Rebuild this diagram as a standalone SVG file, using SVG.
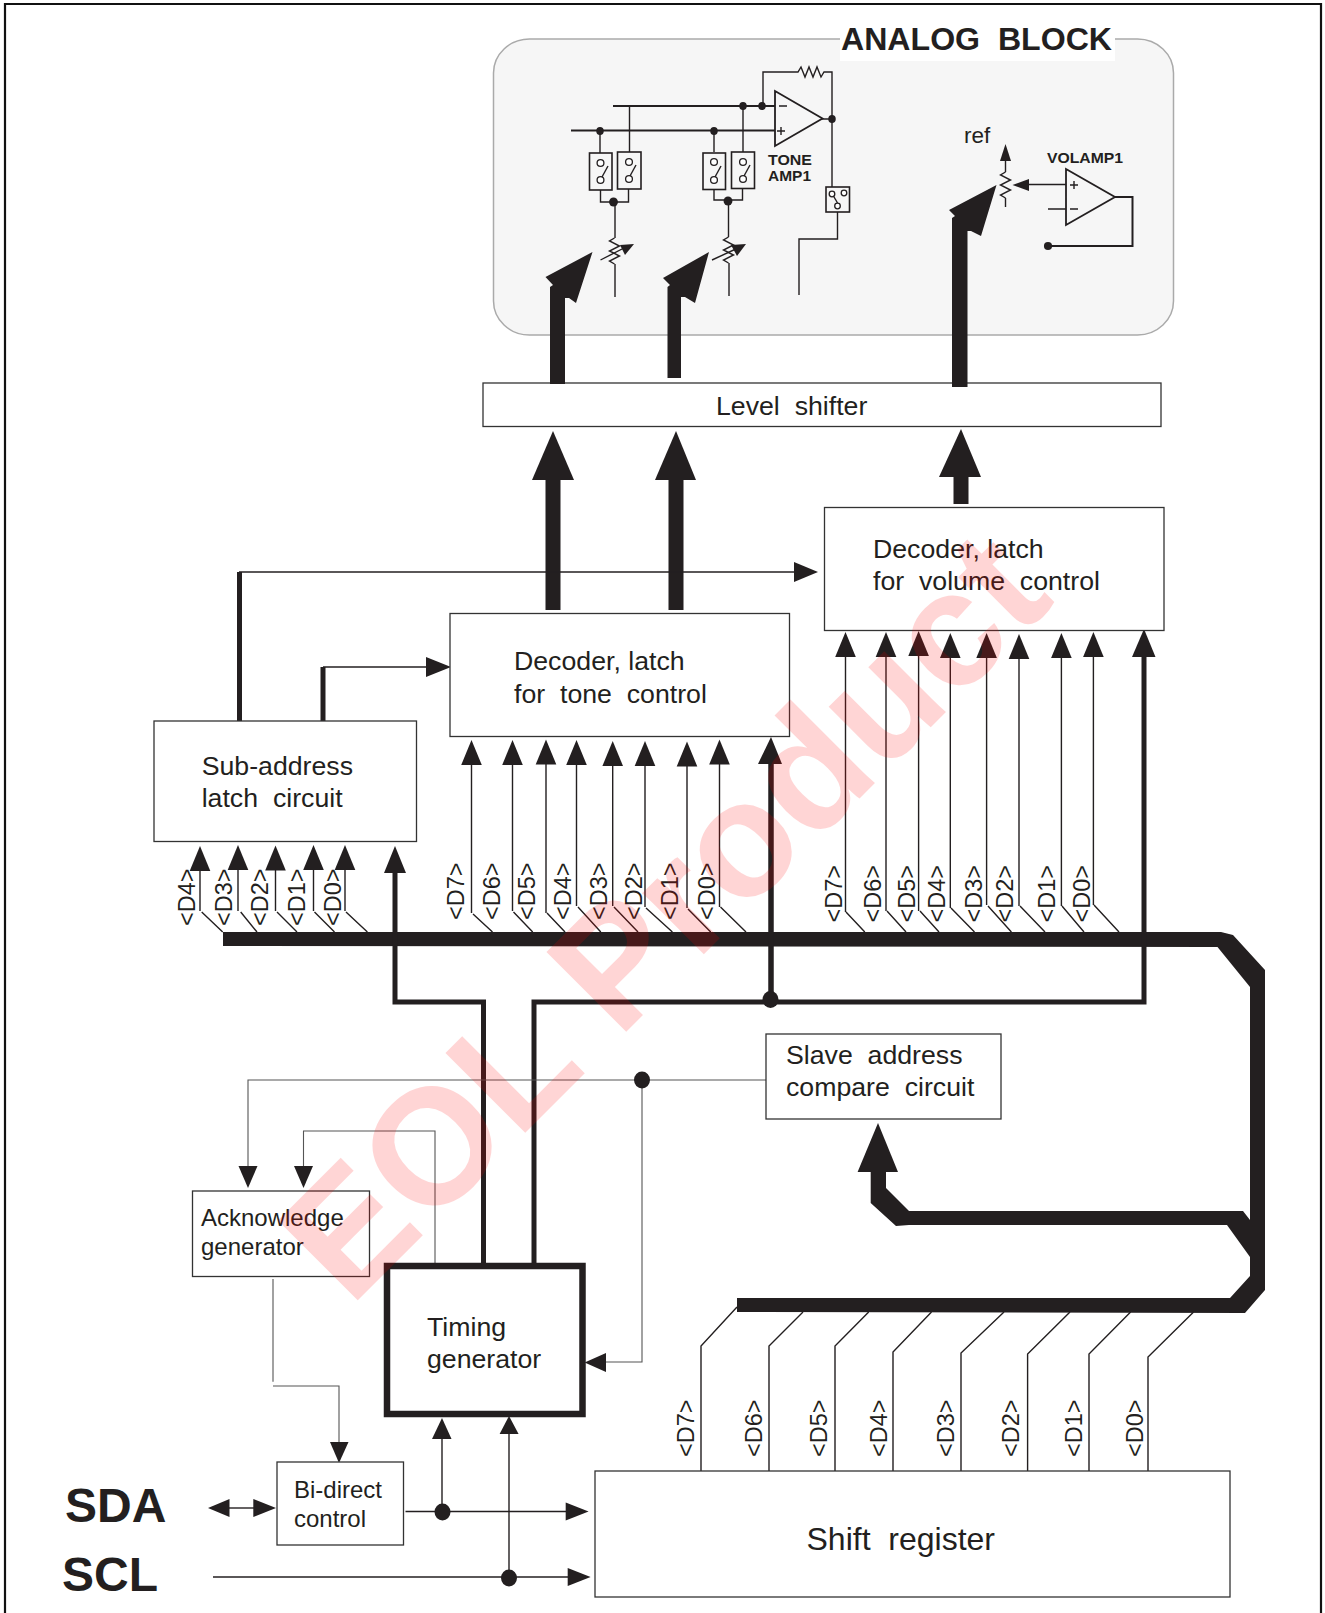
<svg xmlns="http://www.w3.org/2000/svg" xmlns:xlink="http://www.w3.org/1999/xlink" width="1325" height="1613" viewBox="0 0 1325 1613">
<style>
text{font-family:"Liberation Sans",Arial,sans-serif;fill:#231f20;white-space:pre}
.box{fill:#fff;stroke:#333;stroke-width:1.3}
.t{font-size:26.7px}.t24{font-size:24px}
.d{font-size:23.5px}
.b{font-weight:bold}
.w1{fill:none;stroke:#231f20;stroke-width:1.4}
.w0{fill:none;stroke:#555;stroke-width:1.1}
.w2{fill:none;stroke:#231f20;stroke-width:2}
.w5{fill:none;stroke:#231f20;stroke-width:5}
.w6{fill:none;stroke:#231f20;stroke-width:5.5}
.k{fill:#231f20}
.sw{fill:none;stroke:#231f20;stroke-width:1.6}
.c{fill:#fff;stroke:#231f20;stroke-width:1.3}
</style>
<defs>
<polygon id="up" class="k" points="0,0 10.3,25 -10.3,25"/>
<polygon id="down" class="k" points="0,0 9.5,-22 -9.5,-22"/>
<circle id="sd" class="k" r="3.4"/>
<path id="res" class="w1" d="M0,0 l-5,3 10,5 -10,5 10,5 -10,5 5,3"/>
</defs>

<path d="M5,1613V4H1321V1613" fill="none" stroke="#111" stroke-width="2.2"/>

<g id="analog-block">
<rect x="493.500" y="39" width="680" height="296" rx="36" ry="34" fill="#f6f6f6" stroke="#aaa" stroke-width="1.5"/>
<rect x="840" y="20" width="275" height="41" fill="#fff"/>
<text class="b" x="841" y="50" font-size="31" textLength="271" lengthAdjust="spacingAndGlyphs">ANALOG  BLOCK</text>
<g id="tone-amp">
<path class="w2" d="M613,106H775M571,130.500H775"/>
<polygon points="775,91 822.500,118.500 775,146" fill="none" stroke="#231f20" stroke-width="1.8"/>
<path class="w1" d="M777,131h8M781,127v8M779,106h8"/>
<path class="w1" d="M763,106V72H798l3,-5 4,10 4,-10 4,10 4,-10 4,10 3,-5H832V187M822,119h10"/>
<path class="w1" d="M629.500,106V152M743,106V152M600,131V153M714,131V152"/>
<use xlink:href="#sd" transform="translate(743,106) scale(1.1,1.2)"/><use xlink:href="#sd" transform="translate(762,106) scale(1.1,1.2)"/>
<use xlink:href="#sd" transform="translate(600,131) scale(1.1,1.2)"/><use xlink:href="#sd" transform="translate(714,131) scale(1.1,1.2)"/>
<use xlink:href="#sd" transform="translate(832,119) scale(1.1,1.2)"/>
<text class="b" x="768" y="165" font-size="15.500" textLength="44" lengthAdjust="spacingAndGlyphs">TONE</text>
<text class="b" x="768" y="181" font-size="15.500" textLength="43" lengthAdjust="spacingAndGlyphs">AMP1</text>
</g>
<g id="switches">
<rect class="sw" x="589.500" y="153" width="22.500" height="37"/>
<rect class="sw" x="617.500" y="152" width="23.500" height="37"/>
<rect class="sw" x="703" y="153" width="22.500" height="36.500"/>
<rect class="sw" x="731.500" y="152" width="23" height="36.500"/>
<rect class="sw" x="826" y="187" width="23.500" height="25"/>
<circle class="c" cx="600.500" cy="163" r="3.400"/><circle class="c" cx="600.500" cy="180" r="3.400"/><path class="w1" d="M602,177l6,-11"/>
<circle class="c" cx="629" cy="162" r="3.400"/><circle class="c" cx="629" cy="179" r="3.400"/><path class="w1" d="M630,176l6,-11"/>
<circle class="c" cx="714" cy="162" r="3.400"/><circle class="c" cx="714" cy="180" r="3.400"/><path class="w1" d="M715,177l6,-11"/>
<circle class="c" cx="743" cy="162" r="3.400"/><circle class="c" cx="743" cy="179" r="3.400"/><path class="w1" d="M744,176l6,-11"/>
<circle class="c" cx="832" cy="194" r="2.800"/><circle class="c" cx="844" cy="193" r="2.800"/><circle class="c" cx="837.500" cy="206" r="2.800"/><path class="w1" d="M837.500,203l-4,-7"/>
</g>
<g id="tone-pots">
<path class="w1" d="M600.500,190V202H628.500V189M615,202V238M615,264V297"/>
<use xlink:href="#res" transform="translate(614.500,238)"/>
<use xlink:href="#sd" transform="translate(613.500,202) scale(1.3,1.3)"/>
<path class="w1" d="M600.500,260L624,248"/>
<polygon class="k" points="634,244 620,245 625,255"/>
<path class="w1" d="M714,189V200H742.500V189M728.500,200V237M729,263V296"/>
<use xlink:href="#res" transform="translate(728.500,237)"/>
<use xlink:href="#sd" transform="translate(728,201) scale(1.3,1.3)"/>
<path class="w1" d="M712,260L738,248"/>
<polygon class="k" points="746,244 731,245 737,256"/>
<path class="w1" d="M837.500,212V239H799V295"/>
</g>
<g id="volamp">
<text x="964" y="143" font-size="22.500">ref</text>
<polygon class="k" points="1005.500,144 1011,161 1000,161"/>
<path class="w1" d="M1005.500,160V172M1005.500,198V207"/>
<use xlink:href="#res" transform="translate(1005.500,172)"/>
<polygon class="k" points="1012.500,185 1029,179 1029,191"/>
<path class="w1" d="M1028,184.500H1066M1048,209H1066"/>
<polygon points="1066,169 1115,197 1066,225" fill="none" stroke="#231f20" stroke-width="1.800"/>
<path class="w1" d="M1070,185h8M1074,181v8M1070,209h8"/>
<path class="w2" d="M1115,197H1132.500V246H1048"/>
<use xlink:href="#sd" transform="translate(1048,246) scale(1.2,1.2)"/>
<text class="b" x="1047" y="163" font-size="15.500" textLength="76" lengthAdjust="spacingAndGlyphs">VOLAMP1</text>
</g>
</g>

<g id="level-shifter"><rect class="box" x="483" y="383" width="678" height="43.500"/><text class="t" x="716" y="414.500">Level  shifter</text></g>

<g id="connectors">
<g id="thick-arrows">
<polygon class="k" points="550,384 565,384 565,298 569,298 576,303 592.500,252 545.500,277 553,285 550,287"/>
<polygon class="k" points="667.500,378 681,378 681,297 685,297 695,303 709,252 663,278 670,285 667.500,287"/>
<polygon class="k" points="952,387 967.500,387 967.500,231 971,231 981,236 996.500,185 949,210 955,216 952,218"/>
<path fill="none" stroke="#231f20" stroke-width="15" d="M553,610V470M676,610V470M961,504V470"/>
<polygon class="k" points="553,431 574,480 532,480"/>
<polygon class="k" points="676,431 696,480 655,480"/>
<polygon class="k" points="961,429 981,477 939,477"/>
</g>
<g id="sub-address-outputs">
<path class="w5" d="M239.500,721V572"/>
<path class="w1" d="M239,572H795"/>
<polygon class="k" points="818,572 794,562 794,582"/>
<path class="w5" d="M323,721V667"/>
<path class="w1" d="M323,667H428"/>
<polygon class="k" points="451,667 426,657 426,677"/>
</g>
<g id="bus">
<polygon class="k" points="223,932 1221,932 1233,935 1265,970 1265,1290 1245,1313 737,1312 737,1298 1230,1298 1250,1276 1250,1257 1227,1225 909,1225 896,1226 870.700,1203 870.700,1172 886,1172 886,1188 909,1211 1243,1211 1250,1220 1250,987 1217.500,947 223,946"/>
<polygon class="k" points="878,1123 898,1172 857.600,1172"/>
</g>
<g id="sub-taps">
<path class="w1" d="M200,870V911M201.700,912L222.700,932"/><use xlink:href="#up" x="200" y="846"/>
<path class="w1" d="M238,870V911M240.700,912L257,932"/><use xlink:href="#up" x="238" y="845"/>
<path class="w1" d="M275.500,870V911M277,912L297,932"/><use xlink:href="#up" x="275.500" y="845.500"/>
<path class="w1" d="M313.500,870V911M314.500,912L334.500,932"/><use xlink:href="#up" x="313.500" y="845"/>
<path class="w1" d="M345,870V911M346,912L367.400,932"/><use xlink:href="#up" x="345" y="845"/>
</g>
<g id="tone-taps">
<path class="w1" d="M471.500,760V913M473,914L492.500,932"/><use xlink:href="#up" x="471.500" y="740"/>
<path class="w1" d="M512.500,760V911M513.500,912L532.700,932"/><use xlink:href="#up" x="512.500" y="740"/>
<path class="w1" d="M546,760V913M547,913L565,932"/><use xlink:href="#up" x="546" y="739.500"/>
<path class="w1" d="M576.500,760V906M578,907L600.800,932"/><use xlink:href="#up" x="576.500" y="740"/>
<path class="w1" d="M612.700,760V906M614,907L638,932"/><use xlink:href="#up" x="612.700" y="741"/>
<path class="w1" d="M645,760V907M646,908L672.400,932"/><use xlink:href="#up" x="645" y="741"/>
<path class="w1" d="M687,760V908M688,909L710.700,932"/><use xlink:href="#up" x="687" y="741.500"/>
<path class="w1" d="M719.500,760V907M720.500,907L746,932"/><use xlink:href="#up" x="719.500" y="739.500"/>
</g>
<g id="volume-taps">
<path class="w1" d="M845.500,652V912M846,912L864.800,932"/><use xlink:href="#up" x="845.500" y="632"/>
<path class="w1" d="M886,652V911M887,911L906,932"/><use xlink:href="#up" x="886" y="632"/>
<path class="w1" d="M918.600,652V911M920,911L939,932"/><use xlink:href="#up" x="918.600" y="631"/>
<path class="w1" d="M950.300,652V908M951,908L974.500,932"/><use xlink:href="#up" x="950.300" y="633"/>
<path class="w1" d="M986.600,652V905M988,906L1011.400,932"/><use xlink:href="#up" x="986.600" y="633"/>
<path class="w1" d="M1019,652V906M1020,906L1045,932"/><use xlink:href="#up" x="1019" y="634"/>
<path class="w1" d="M1061.400,652V906M1062,906L1084,932"/><use xlink:href="#up" x="1061.400" y="633"/>
<path class="w1" d="M1093.400,652V905M1094,905L1119,932"/><use xlink:href="#up" x="1093.400" y="632"/>
</g>
<g id="register-taps">
<path class="w1" d="M737,1307L701,1346V1471"/>
<path class="w1" d="M803,1312L769,1346V1471"/>
<path class="w1" d="M868.700,1312L835,1346V1471"/>
<path class="w1" d="M931.500,1312L893,1352V1471"/>
<path class="w1" d="M1004,1312L961,1353V1471"/>
<path class="w1" d="M1070,1312L1027.600,1354V1471"/>
<path class="w1" d="M1130.600,1312L1089,1354V1471"/>
<path class="w1" d="M1193.600,1312L1148,1357V1471"/>
</g>
<g id="timing-lines">
<path class="w5" d="M483.500,1264V1002H395V870"/>
<path class="w5" d="M534,1264V1002H1144V655"/>
<path class="w6" d="M771,1002V762"/>
<polygon class="k" points="395,846 406,873 384,873"/>
<polygon class="k" points="771,737 782,764 758,764"/>
<polygon class="k" points="1144,629 1155.500,657 1132,657"/>
<ellipse class="k" cx="770.500" cy="999.500" rx="8" ry="8.500"/>
</g>
<g id="control-lines">
<path class="w0" d="M766,1080H248V1168"/>
<use xlink:href="#down" x="248" y="1188"/>
<path class="w0" d="M642,1080V1362H604"/>
<ellipse class="k" cx="642" cy="1080" rx="8" ry="8.500"/>
<polygon class="k" points="584.600,1362.500 606,1353 606,1372"/>
<path class="w0" d="M435,1263V1131H303.500V1168"/>
<use xlink:href="#down" x="303.500" y="1188"/>
<path class="w0" d="M273,1279V1381.700M273,1386H339V1445"/>
<polygon class="k" points="339,1463 330,1442 348.500,1442"/>
<path class="w1" d="M229,1508H254"/>
<polygon class="k" points="208,1508 229.500,1499 229.500,1517"/>
<polygon class="k" points="276,1508 253.300,1499 253.300,1517"/>
<path class="w1" d="M405.500,1511.500H568"/>
<polygon class="k" points="588.600,1511.500 565.700,1502.500 565.700,1520.500"/>
<path class="w1" d="M442,1512V1436"/>
<polygon class="k" points="442,1418 451.500,1439 432,1439"/>
<ellipse class="k" cx="442.500" cy="1512" rx="8" ry="8.500"/>
<path class="w1" d="M213,1577H570"/>
<polygon class="k" points="590.600,1577 567.700,1568 567.700,1586"/>
<path class="w1" d="M509,1577V1432"/>
<polygon class="k" points="509,1416 518.600,1434 499.600,1434"/>
<ellipse class="k" cx="509" cy="1578" rx="8" ry="8.500"/>
</g>
</g>

<g id="decoder-volume"><rect class="box" x="824.500" y="507.500" width="339.500" height="123"/><text class="t" x="873" y="558">Decoder, latch</text><text class="t" x="873" y="590">for  volume  control</text></g>
<g id="decoder-tone"><rect class="box" x="450" y="613.500" width="339.500" height="123"/><text class="t" x="514" y="670">Decoder, latch</text><text class="t" x="514" y="703">for  tone  control</text></g>
<g id="sub-address"><rect class="box" x="154" y="721" width="262.500" height="120.500"/><text class="t" x="201.700" y="775">Sub-address</text><text class="t" x="201.700" y="806.500">latch  circuit</text></g>
<g id="slave-address"><rect class="box" x="766" y="1034" width="235" height="85"/><text class="t" x="786" y="1064">Slave  address</text><text class="t" x="786" y="1096">compare  circuit</text></g>
<g id="acknowledge"><rect class="box" x="192.500" y="1191" width="177" height="85.500"/><text class="t24" x="201" y="1226">Acknowledge</text><text class="t24" x="201" y="1255">generator</text></g>
<g id="timing"><rect x="387" y="1266" width="195.500" height="148" fill="#fff" stroke="#231f20" stroke-width="6.500"/><text class="t" x="427" y="1336">Timing</text><text class="t" x="427" y="1368">generator</text></g>
<g id="bidirect"><rect class="box" x="277" y="1462" width="126.500" height="83"/><text class="t24" x="294" y="1498">Bi-direct</text><text class="t24" x="294" y="1527">control</text></g>
<g id="shift-register"><rect class="box" x="595" y="1471" width="635" height="126"/><text x="806.500" y="1550" font-size="32">Shift  register</text></g>

<g id="bus-labels">
<text class="d" transform="translate(195,926) rotate(-90)">&lt;D4&gt;</text>
<text class="d" transform="translate(231.500,926) rotate(-90)">&lt;D3&gt;</text>
<text class="d" transform="translate(268,926) rotate(-90)">&lt;D2&gt;</text>
<text class="d" transform="translate(305,926) rotate(-90)">&lt;D1&gt;</text>
<text class="d" transform="translate(341,926) rotate(-90)">&lt;D0&gt;</text>
<text class="d" transform="translate(463.800,920) rotate(-90)">&lt;D7&gt;</text>
<text class="d" transform="translate(500,920) rotate(-90)">&lt;D6&gt;</text>
<text class="d" transform="translate(535,920) rotate(-90)">&lt;D5&gt;</text>
<text class="d" transform="translate(571,920) rotate(-90)">&lt;D4&gt;</text>
<text class="d" transform="translate(607,920) rotate(-90)">&lt;D3&gt;</text>
<text class="d" transform="translate(642,920) rotate(-90)">&lt;D2&gt;</text>
<text class="d" transform="translate(678,920) rotate(-90)">&lt;D1&gt;</text>
<text class="d" transform="translate(714.500,920) rotate(-90)">&lt;D0&gt;</text>
<text class="d" transform="translate(841.700,922.500) rotate(-90)">&lt;D7&gt;</text>
<text class="d" transform="translate(881.400,922.500) rotate(-90)">&lt;D6&gt;</text>
<text class="d" transform="translate(914.800,922.500) rotate(-90)">&lt;D5&gt;</text>
<text class="d" transform="translate(944.500,922.500) rotate(-90)">&lt;D4&gt;</text>
<text class="d" transform="translate(982.400,922.500) rotate(-90)">&lt;D3&gt;</text>
<text class="d" transform="translate(1013.400,922.500) rotate(-90)">&lt;D2&gt;</text>
<text class="d" transform="translate(1054.500,922.500) rotate(-90)">&lt;D1&gt;</text>
<text class="d" transform="translate(1090,922.500) rotate(-90)">&lt;D0&gt;</text>
<text class="d" transform="translate(693.600,1457) rotate(-90)">&lt;D7&gt;</text>
<text class="d" transform="translate(762,1457) rotate(-90)">&lt;D6&gt;</text>
<text class="d" transform="translate(827,1457) rotate(-90)">&lt;D5&gt;</text>
<text class="d" transform="translate(887,1457) rotate(-90)">&lt;D4&gt;</text>
<text class="d" transform="translate(954.400,1457) rotate(-90)">&lt;D3&gt;</text>
<text class="d" transform="translate(1019,1457) rotate(-90)">&lt;D2&gt;</text>
<text class="d" transform="translate(1082,1457) rotate(-90)">&lt;D1&gt;</text>
<text class="d" transform="translate(1143,1457) rotate(-90)">&lt;D0&gt;</text>
</g>

<g id="pins">
<text class="b" x="65" y="1522" font-size="48">SDA</text>
<text class="b" x="62" y="1591" font-size="48">SCL</text>
</g>

<text id="watermark" transform="translate(350,1308) rotate(-45)" font-size="164" font-weight="bold" style="fill:#ff0000;opacity:.16">EOL Product</text>
</svg>
